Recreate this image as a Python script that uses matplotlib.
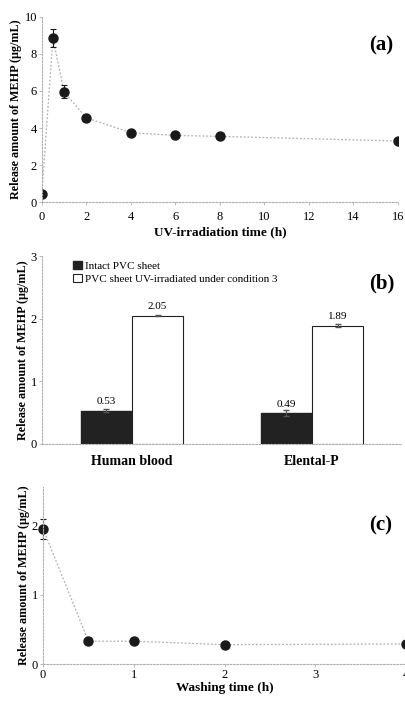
import matplotlib
matplotlib.use("Agg")
import matplotlib.pyplot as plt
import numpy as np

plt.rcParams['font.family'] = ['Liberation Serif', 'DejaVu Serif']

# panel (a): UV-irradiation time course
uv_time = [0, 0.5, 1, 2, 4, 6, 8, 16]
uv_mehp = [0.45, 8.85, 5.95, 4.55, 3.75, 3.6, 3.55, 3.3]
uv_err = [0.05, 0.5, 0.35, 0.08, 0.12, 0.08, 0.07, 0.06]

# panel (b): release into media
media = ["Human blood", "Elental-P"]
intact = [0.53, 0.49]
intact_err = [0.03, 0.05]
irradiated = [2.05, 1.89]
irradiated_err = [0.01, 0.03]

# panel (c): washing time course
wash_time = [0, 0.5, 1, 2, 4]
wash_mehp = [1.95, 0.33, 0.33, 0.28, 0.29]
wash_err = [0.14, 0.02, 0.02, 0.02, 0.02]

ylab = "Release amount of MEHP (\u03bcg/mL)"
grey = "#b0b0b0"

fig = plt.figure(figsize=(4.06, 7.02), dpi=100)


def style(ax):
    for s in ["top", "right"]:
        ax.spines[s].set_visible(False)
    for s in ["left", "bottom"]:
        ax.spines[s].set_color(grey)
        ax.spines[s].set_linestyle((0, (1.5, 1.5)))
        ax.spines[s].set_linewidth(0.8)
    ax.tick_params(length=2, width=0.6, color=grey, labelsize=9, pad=4)
    ax.tick_params(axis="y", pad=1.5)
    ax.set_ylabel(ylab, fontsize=8.7, fontweight="bold", labelpad=1.5)


# (a)
ax1 = fig.add_axes([0.103, 0.712, 0.877, 0.264])
ax1.plot(uv_time, uv_mehp, ls=(0, (1.5, 1.5)), color=grey, lw=0.9, zorder=1)
ax1.errorbar(uv_time, uv_mehp, yerr=uv_err, fmt="o", color="#1a1a1a", ms=6.5,
             ecolor="#1a1a1a", elinewidth=0.8, capsize=2.5, capthick=0.8, zorder=2)
ax1.set_xlim(0, 16)
ax1.set_ylim(0, 10)
ax1.set_xticks(np.arange(0, 17, 2))
ax1.set_yticks(np.arange(0, 11, 2))
style(ax1)
ax1.set_xlabel("UV-irradiation time (h)", fontsize=9.5, fontweight="bold", labelpad=3)
ax1.text(0.953, 0.845, "(a)", transform=ax1.transAxes, fontsize=15,
         fontweight="bold", ha="center", va="center")

# (b)
ax2 = fig.add_axes([0.103, 0.368, 0.887, 0.267])
x = np.arange(len(media))
w = 0.285
ax2.bar(x - w / 2, intact, w, color="#222222", edgecolor="#222222",
        label="Intact PVC sheet", zorder=2)
ax2.bar(x + w / 2, irradiated, w, color="white", edgecolor="#222222", lw=0.8,
        label="PVC sheet UV-irradiated under condition 3", zorder=2)
ax2.errorbar(x - w / 2, intact, yerr=intact_err, fmt="none", ecolor="#555555",
             elinewidth=0.8, capsize=2, zorder=3)
ax2.errorbar(x + w / 2, irradiated, yerr=irradiated_err, fmt="none", ecolor="#555555",
             elinewidth=0.8, capsize=2, zorder=3)
for i in range(len(media)):
    ax2.text(x[i] - w / 2, intact[i] + 0.07, "%.2f" % intact[i], ha="center",
             va="bottom", fontsize=8)
    ax2.text(x[i] + w / 2, irradiated[i] + 0.07, "%.2f" % irradiated[i], ha="center",
             va="bottom", fontsize=8)
ax2.set_xlim(-0.5, 1.5)
ax2.set_ylim(0, 3)
ax2.set_yticks([0, 1, 2, 3])
ax2.set_xticks(x)
ax2.set_xticklabels(media)
style(ax2)
ax2.tick_params(axis="x", length=0, labelsize=10, pad=8)
for t in ax2.get_xticklabels():
    t.set_fontweight("bold")
ax2.legend(loc="upper left", bbox_to_anchor=(0.075, 1.0), frameon=False, fontsize=8,
           handlelength=0.8, handleheight=0.8, handletextpad=0.3, labelspacing=0.25,
           borderaxespad=0)
ax2.text(0.945, 0.855, "(b)", transform=ax2.transAxes, fontsize=15,
         fontweight="bold", ha="center", va="center")

# (c)
ax3 = fig.add_axes([0.106, 0.054, 0.894, 0.252])
ax3.plot(wash_time, wash_mehp, ls=(0, (1.5, 1.5)), color=grey, lw=0.9, zorder=1)
ax3.errorbar(wash_time, wash_mehp, yerr=wash_err, fmt="o", color="#1a1a1a", ms=6.5,
             ecolor="#1a1a1a", elinewidth=0.8, capsize=2.5, capthick=0.8, zorder=2,
             clip_on=False)
ax3.set_xlim(0, 4)
ax3.set_ylim(0, 2.55)
ax3.set_xticks([0, 1, 2, 3, 4])
ax3.set_yticks([0, 1, 2])
style(ax3)
ax3.tick_params(axis="x", pad=1.5)
ax3.set_xlabel("Washing time (h)", fontsize=9.5, fontweight="bold", labelpad=1)
ax3.text(0.93, 0.785, "(c)", transform=ax3.transAxes, fontsize=15,
         fontweight="bold", ha="center", va="center")

fig.savefig("out.png", dpi=100)
